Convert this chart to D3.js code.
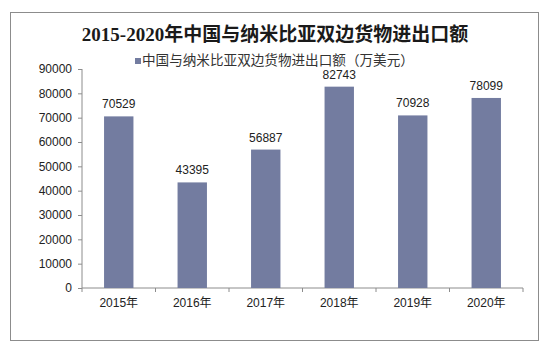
<!DOCTYPE html>
<html><head><meta charset="utf-8">
<script src="https://cdn.jsdelivr.net/npm/d3@7"></script>
<style>body{margin:0;background:#fff}svg{display:block}</style>
</head><body>
<script>
const categories = ["2015年","2016年","2017年","2018年","2019年","2020年"];
const values = [70529,43395,56887,82743,70928,78099];
const yTicks = [0,10000,20000,30000,40000,50000,60000,70000,80000,90000];
const title = "2015-2020年中国与纳米比亚双边货物进出口额";
const seriesName = "中国与纳米比亚双边货物进出口额（万美元）";

const W=549,H=348;
const svg=d3.select("body").append("svg").attr("width",W).attr("height",H);
svg.append("rect").attr("x",10.5).attr("y",12.5).attr("width",528).attr("height",328)
  .attr("fill","#fff").attr("stroke","#8c8c8c");
const x=d3.scaleBand().domain(categories).range([82,523]).paddingInner(0.6).paddingOuter(0.3);
const y=d3.scaleLinear().domain([0,90000]).range([288,69]);
const bar="#737ca0", axisC="#8c8c8c", font="'Liberation Sans',Arial,'Noto Sans CJK SC',sans-serif";

svg.append("text").attr("x",275).attr("y",41).attr("text-anchor","middle")
  .attr("font-family","'Liberation Serif','Times New Roman','Noto Sans CJK SC',serif")
  .attr("font-weight","bold").attr("font-size",19).attr("fill","#1a1a1a").text(title);
svg.append("rect").attr("x",135).attr("y",58).attr("width",6).attr("height",6).attr("fill",bar);
svg.append("text").attr("x",142).attr("y",65).attr("font-family",font).attr("font-size",13.6)
  .attr("fill","#333").text(seriesName);

const ya=svg.append("g").attr("transform","translate(82,0)")
  .call(d3.axisLeft(y).tickValues(yTicks).tickSize(4).tickPadding(6).tickFormat(d3.format("d")));
ya.select(".domain").attr("stroke",axisC).attr("d","M-0,"+y(90000)+"V"+y(0));
ya.selectAll(".tick line").attr("stroke",axisC);
ya.selectAll("text").attr("font-family",font).attr("font-size",12).attr("fill","#222");

const xa=svg.append("g").attr("transform","translate(0,288)")
  .call(d3.axisBottom(x).tickSize(0).tickPadding(10));
xa.select(".domain").attr("stroke",axisC).attr("d","M82,0H523");
xa.selectAll(".tick text").attr("font-family",font).attr("font-size",12).attr("fill","#222");
svg.append("g").selectAll("line").data(d3.range(categories.length+1)).join("line")
  .attr("x1",(d)=>82+d*(441/6)).attr("x2",(d)=>82+d*(441/6)).attr("y1",288).attr("y2",292)
  .attr("stroke",axisC);

svg.append("g").selectAll("rect").data(values).join("rect")
  .attr("x",(d,i)=>x(categories[i])).attr("width",x.bandwidth())
  .attr("y",d=>y(d)).attr("height",d=>y(0)-y(d)).attr("fill",bar);
svg.append("g").selectAll("text").data(values).join("text")
  .attr("x",(d,i)=>x(categories[i])+x.bandwidth()/2).attr("y",d=>y(d)-8)
  .attr("text-anchor","middle").attr("font-family",font).attr("font-size",12).attr("fill","#222")
  .text(d=>d);
</script>
</body></html>
